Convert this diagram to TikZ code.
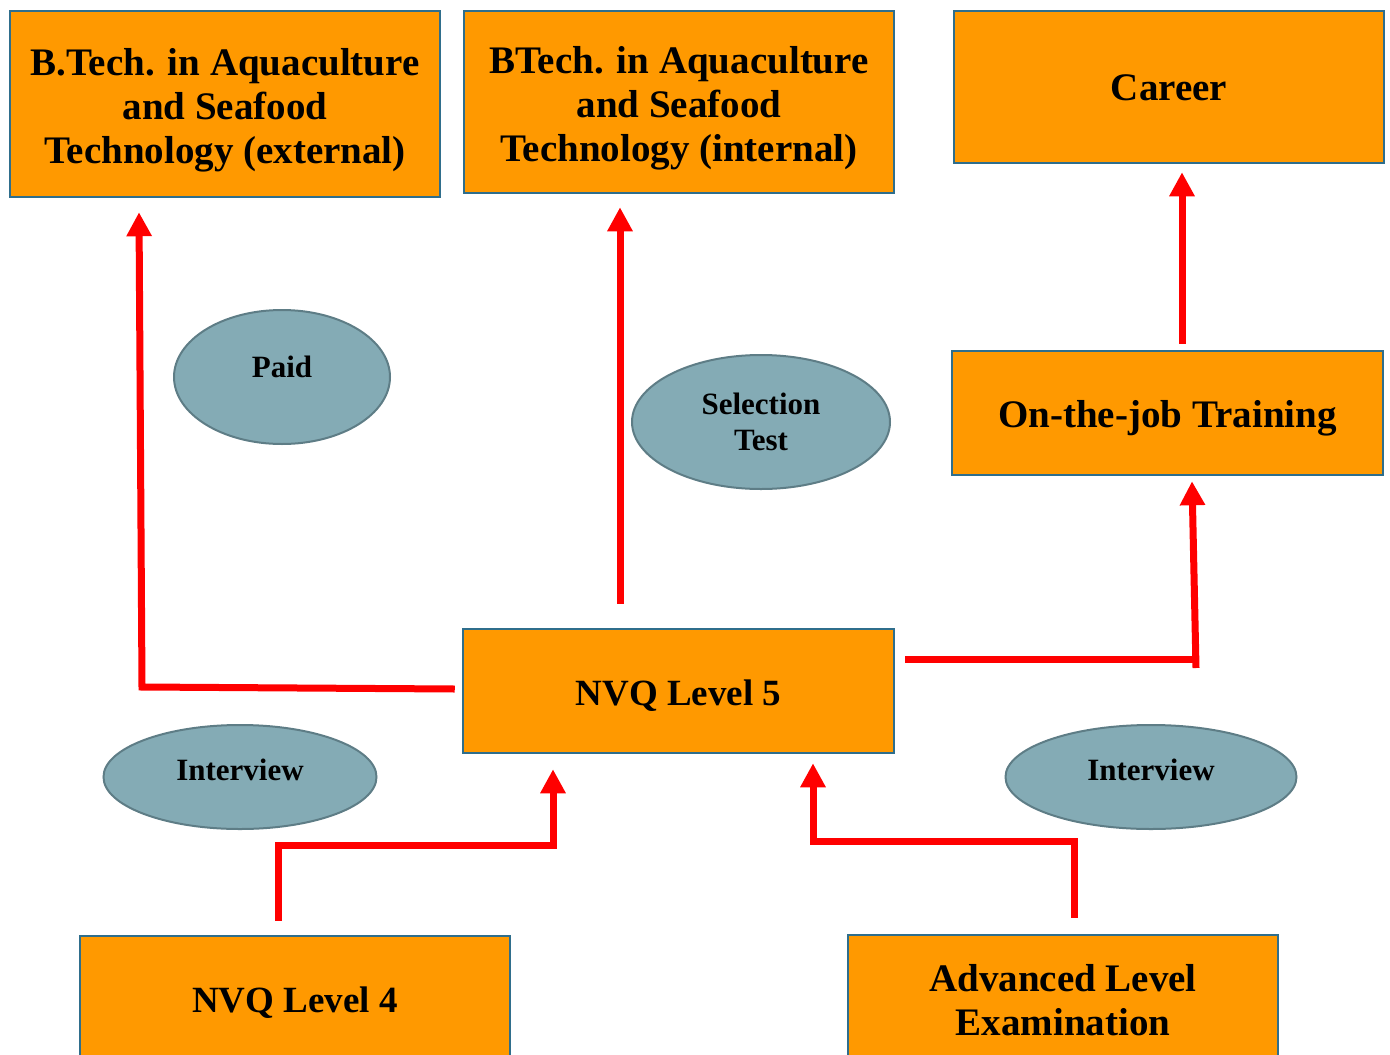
\documentclass[tikz,border=0pt]{standalone}
\usepackage{fontspec}
\setmainfont{Liberation Serif}
\usetikzlibrary{arrows.meta,calc,shapes.geometric}
\definecolor{boxfill}{HTML}{FF9900}
\definecolor{boxline}{HTML}{2F6E8C}
\definecolor{ovalfill}{HTML}{84ABB5}
\definecolor{ovalline}{HTML}{5E7D86}
\definecolor{arrred}{HTML}{FF0000}
\tikzset{
  box/.style={draw=boxline, line width=2.5pt, fill=boxfill, rectangle, inner sep=0pt},
  btext/.style={font=\bfseries\fontsize{39}{44}\selectfont, align=center, inner sep=0pt, yshift=-5pt},
  bsmall/.style={btext, font=\bfseries\fontsize{37}{44}\selectfont},
  oval/.style={draw=ovalline, line width=2pt, fill=ovalfill, ellipse, inner sep=0pt},
  otext/.style={font=\bfseries\fontsize{31}{36}\selectfont, align=center, inner sep=0pt},
  arr/.style={draw=arrred, line width=7pt, -{Triangle[length=24pt,width=24pt]}},
  seg/.style={draw=arrred, line width=7pt},
}
\begin{document}
\begin{tikzpicture}[x=1pt,y=-1pt]
\path[use as bounding box, clip] (0,0) rectangle (1390,1055);
\fill[white] (0,0) rectangle (1390,1055);

\node[box, minimum width=430pt, minimum height=186pt,
  label={[btext, yshift=-1pt]center:B.Tech. in Aquaculture\\and Seafood\\Technology (external)}] (ext) at (225,104) {};
\node[box, minimum width=430pt, minimum height=182pt,
  label={[btext, yshift=-1pt]center:BTech. in Aquaculture\\and Seafood\\Technology (internal)}] (int) at (679,102) {};
\node[box, minimum width=430pt, minimum height=152pt,
  label={[btext, yshift=4pt]center:Career}] (career) at (1169,87) {};
\node[box, minimum width=431pt, minimum height=124pt,
  label={[btext]center:On-the-job Training}] (ojt) at (1167.5,413) {};
\node[box, minimum width=431pt, minimum height=124pt,
  label={[bsmall]center:NVQ Level 5}] (nvq5) at (678.5,691) {};
\node[box, minimum width=430pt, minimum height=128pt,
  label={[bsmall, yshift=2pt]center:NVQ Level 4}] (nvq4) at (295,1000) {};
\node[box, minimum width=430pt, minimum height=128pt,
  label={[btext, yshift=4pt]center:Advanced Level\\Examination}] (adv) at (1063,999) {};

\node[oval, minimum width=216pt, minimum height=134pt,
  label={[otext, yshift=10pt]center:Paid}] (paid) at (282,377) {};
\node[oval, minimum width=258pt, minimum height=134pt,
  label={[otext]center:Selection\\Test}] (sel) at (761,422) {};
\node[oval, minimum width=273pt, minimum height=104pt,
  label={[otext, yshift=7pt]center:Interview}] (intl) at (240,777) {};
\node[oval, minimum width=291pt, minimum height=104pt,
  label={[otext, yshift=7pt]center:Interview}] (intr) at (1151,777) {};

% NVQ5 -> external
\draw[arr] ($(nvq5.west)+(-7,-2)$) -- (142,687) -- ($(ext.south)+(-86,14)$);
% NVQ5 -> internal
\draw[arr] ($(nvq5.north)+(-58.5,-24)$) -- ($(int.south)+(-59,13)$);
% NVQ5 -> on-the-job
\coordinate (c3) at (1196,668);
\draw[seg] ($(nvq5.east)+(10,-32)$) -- (1199,659);
\draw[arr] (c3) -- ($(ojt.south)+(24.5,5)$);
% on-the-job -> career
\draw[arr] ($(ojt.north)+(14.5,-6)$) -- ($(career.south)+(13,8)$);
% NVQ4 -> NVQ5
\draw[arr] ($(nvq4.north)+(-17,-14)$) -- (278,845) -- (553,845) -- ($(nvq5.south)+(-125.5,15)$);
% Adv -> NVQ5
\draw[arr] ($(adv.north)+(11,-16)$) -- (1074,841) -- (813,841) -- ($(nvq5.south)+(134.5,9)$);
\end{tikzpicture}
\end{document}
